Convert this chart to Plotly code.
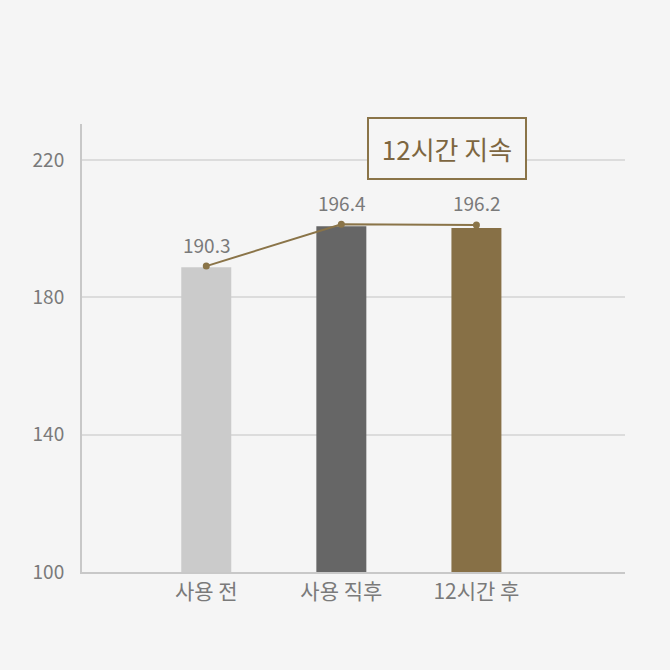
import plotly.graph_objects as go

categories = ["사용 전", "사용 직후", "12시간 후"]
bar_values = [188.8, 200.7, 200.2]
line_values = [189.1, 201.3, 201.1]
value_labels = ["190.3", "196.4", "196.2"]
bar_colors = ["#cbcbcb", "#666666", "#877046"]

x_pos = [0, 1, 2]
font_family = "Noto Sans CJK KR"

fig = go.Figure()

fig.add_trace(go.Bar(
    x=x_pos, y=bar_values, base=0,
    marker=dict(color=bar_colors, line=dict(width=0)),
    width=0.37, hoverinfo="skip",
))

fig.add_trace(go.Scatter(
    x=x_pos, y=line_values, mode="lines+markers",
    line=dict(color="#8a7448", width=2),
    marker=dict(color="#8a7448", size=7),
    cliponaxis=False,
))

# 값 라벨
for xi, yi, lab in zip(x_pos, line_values, value_labels):
    fig.add_annotation(
        x=xi, y=yi, text=lab, showarrow=False, yshift=22,
        font=dict(family=font_family, size=19, color="#7a7a7a"),
    )

# 박스 라벨
fig.add_annotation(
    x=1.785, y=223.5, xref="x", yref="y",
    text="12시간 지속", showarrow=False,
    font=dict(family=font_family, size=26, color="#7d6640"),
    bgcolor="#f5f5f5", bordercolor="#8a7448", borderwidth=2,
    width=152, height=55, borderpad=2,
)

fig.update_layout(
    width=670, height=670,
    paper_bgcolor="#f5f5f5", plot_bgcolor="#f5f5f5",
    margin=dict(l=82, r=45, t=124, b=98),
    showlegend=False,
    font=dict(family=font_family, color="#7a7a7a"),
    xaxis=dict(
        range=[-0.92, 3.1], tickvals=x_pos, ticktext=categories,
        showgrid=False, zeroline=False,
        showline=True, linecolor="#c8c8c8", linewidth=2,
        tickfont=dict(size=21, color="#7a7a7a"), ticks="",
    ),
    yaxis=dict(
        range=[100, 230.5], tickvals=[100, 140, 180, 220],
        showgrid=True, gridcolor="#dcdcdc", gridwidth=2, zeroline=False,
        showline=True, linecolor="#c8c8c8", linewidth=2,
        tickfont=dict(size=19, color="#7a7a7a"), ticks="",
        ticklabelstandoff=12,
    ),
)

fig.write_html("out.html", post_script="document.body.style.margin='0';",
               config={"displayModeBar": False})
